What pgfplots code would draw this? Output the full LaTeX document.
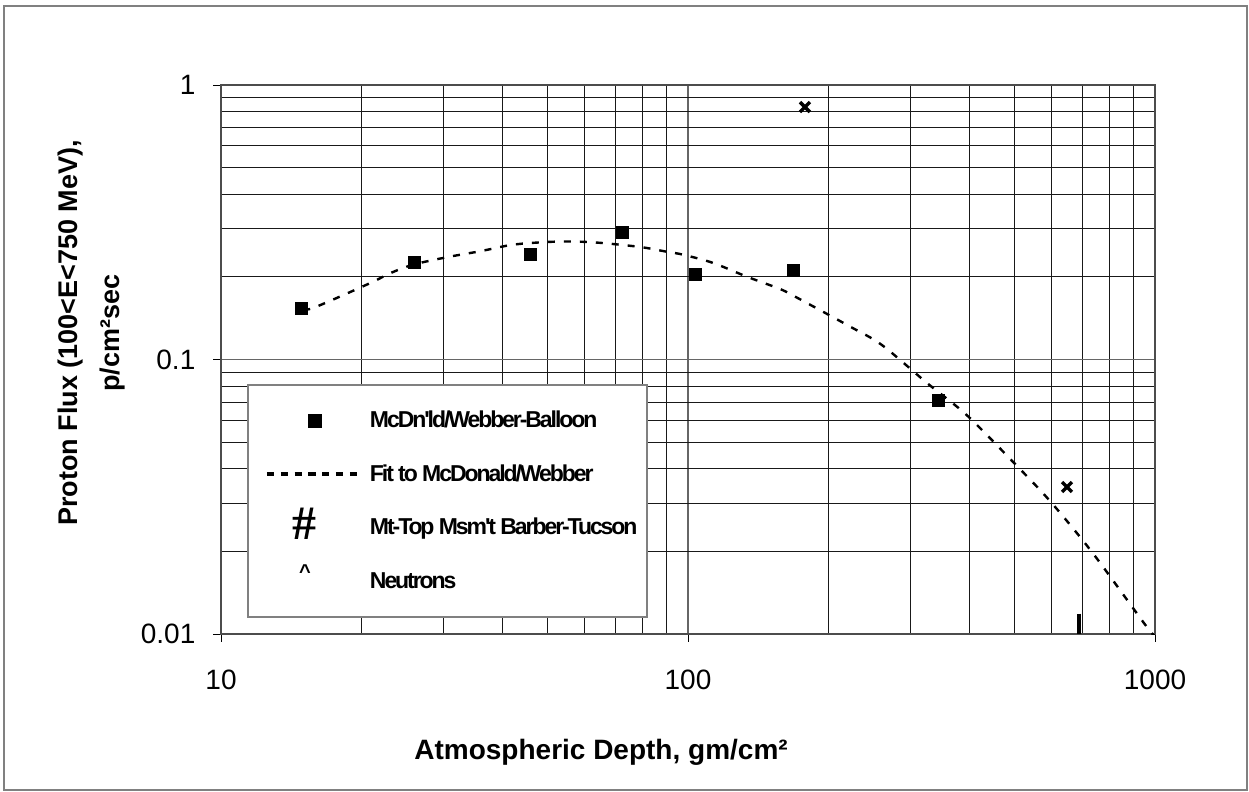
\documentclass[border=0pt]{standalone}
\usepackage{fontspec}
\setmainfont{Liberation Sans}
\newfontfamily\legfont[LetterSpace=-9]{Liberation Sans}
\newfontfamily\hashfont{Liberation Serif}
\usepackage{pgfplots}
\pgfplotsset{compat=1.18}
\newcommand\ticksize{\fontsize{14}{16.8}\selectfont}
\begin{document}
\begin{tikzpicture}
\useasboundingbox (-110.5pt,-79pt) rectangle (514pt,317pt);
\draw[black!50, line width=1pt] (-108.5pt,-78pt) rectangle (513pt,314pt);
\begin{axis}[
  at={(0,0)}, anchor=south west,
  scale only axis, width=467pt, height=274.5pt,
  xmode=log, ymode=log,
  xmin=10, xmax=1000, ymin=0.01, ymax=1,
  xtick={10,100,1000}, xticklabels={10,100,1000},
  ytick={0.01,0.1,1}, yticklabels={0.01,0.1,1},
  minor xtick={20,30,40,50,60,70,80,90,200,300,400,500,600,700,800,900},
  minor ytick={0.02,0.03,0.04,0.05,0.06,0.07,0.08,0.09,0.2,0.3,0.4,0.5,0.6,0.7,0.8,0.9},
  grid=both,
  major grid style={black!60, line width=0.9pt},
  minor grid style={black!90, line width=0.5pt},
  axis line style={black!70, line width=0.9pt},
  tick pos=left, tick align=outside,
  major tick length=4pt, minor tick length=0pt,
  tick style={black, line width=0.5pt},
  ticklabel style={font=\ticksize},
  /pgf/number format/assume math mode=true,
  yticklabel style={xshift=-5.3pt},
  xticklabel style={yshift=-10.3pt},
  xlabel={Atmospheric Depth, gm/cm²},
  xlabel style={at={(axis description cs:0.4069,0)}, anchor=base, yshift=-62.5pt, font=\bfseries\fontsize{14}{16.8}\selectfont},
  ylabel={Proton Flux (100<E<750 MeV),\\[5pt]p/cm²sec},
  ylabel style={at={(axis description cs:-0.1387,0.548)}, anchor=center, align=center, font=\bfseries\fontsize{13.5}{16.2}\selectfont},
  legend style={
    at={(0.0278,0.4554)}, anchor=north west,
    draw=black!50, line width=1pt, fill=white,
    inner xsep=5pt, inner ysep=4.5pt,
    row sep=0pt, column sep=0pt,
    font=\legfont\bfseries\fontsize{11.5}{13}\selectfont,
    nodes={inner sep=0pt, minimum height=26.8pt},
  },
  legend cell align=left,
]
% McDonald/Webber balloon data
\addplot[only marks, mark=square*, mark size=3pt, black,
  legend image code/.code={\path[draw=none,fill=none] (0pt,-3pt) rectangle (56pt,3pt); \fill[black] (25.5pt,-3pt) rectangle (31.5pt,3pt);}]
  coordinates {(14.9,0.153) (25.9,0.226) (45.9,0.241) (72.3,0.291) (103.5,0.205) (168,0.212) (344,0.0712)};
\addlegendentry{McDn'ld/Webber-Balloon}
% Fit
\addplot[black, line width=1.2pt, dash pattern=on 3.5pt off 4.5pt, smooth,
  legend image code/.code={\path[draw=none,fill=none] (0pt,-3pt) rectangle (56pt,3pt); \draw[black, line width=2pt, dash pattern=on 3.6pt off 3.3pt] (4.5pt,0pt) -- (51.5pt,0pt);}]
  coordinates {(15,0.152) (15.9,0.155) (20.6,0.188) (23.3,0.208) (25.9,0.222) (30.5,0.236) (35.9,0.248) (42.2,0.262) (50,0.268) (57,0.269) (65,0.266) (79,0.257) (90,0.247) (97.5,0.241) (113,0.225) (134,0.200) (157,0.181) (169,0.170) (222,0.132) (260,0.113) (325,0.0821) (395,0.0628) (497,0.0423) (596,0.0305) (736,0.0197) (961,0.0106) (1000,0.0099)};
\addlegendentry{Fit to McDonald/Webber}
% Mt-top measurement
\addplot[only marks, mark=|, mark size=5pt, black, line width=2pt,
  legend image code/.code={\path[draw=none,fill=none] (0pt,-3pt) rectangle (56pt,3pt); \node[anchor=base, inner sep=0pt, minimum height=0pt] at (23.5pt,-6pt) {\hashfont\bfseries\fontsize{24}{24}\selectfont\#};}]
  coordinates {(687,0.0109)};
\addlegendentry{Mt-Top Msm't Barber-Tucson}
% Neutrons
\addplot[only marks, mark=x, mark size=3.5pt, black, line width=1.7pt, mark options={line width=1.7pt},
  legend image code/.code={\path[draw=none,fill=none] (0pt,-3pt) rectangle (56pt,3pt); \node[anchor=base, inner sep=0pt, minimum height=0pt] at (23.5pt,1.5pt) {\bfseries\fontsize{10}{10}\selectfont\^{}};}]
  coordinates {(178,0.831) (648,0.0343)};
\addlegendentry{Neutrons}
\end{axis}
\end{tikzpicture}
\end{document}
